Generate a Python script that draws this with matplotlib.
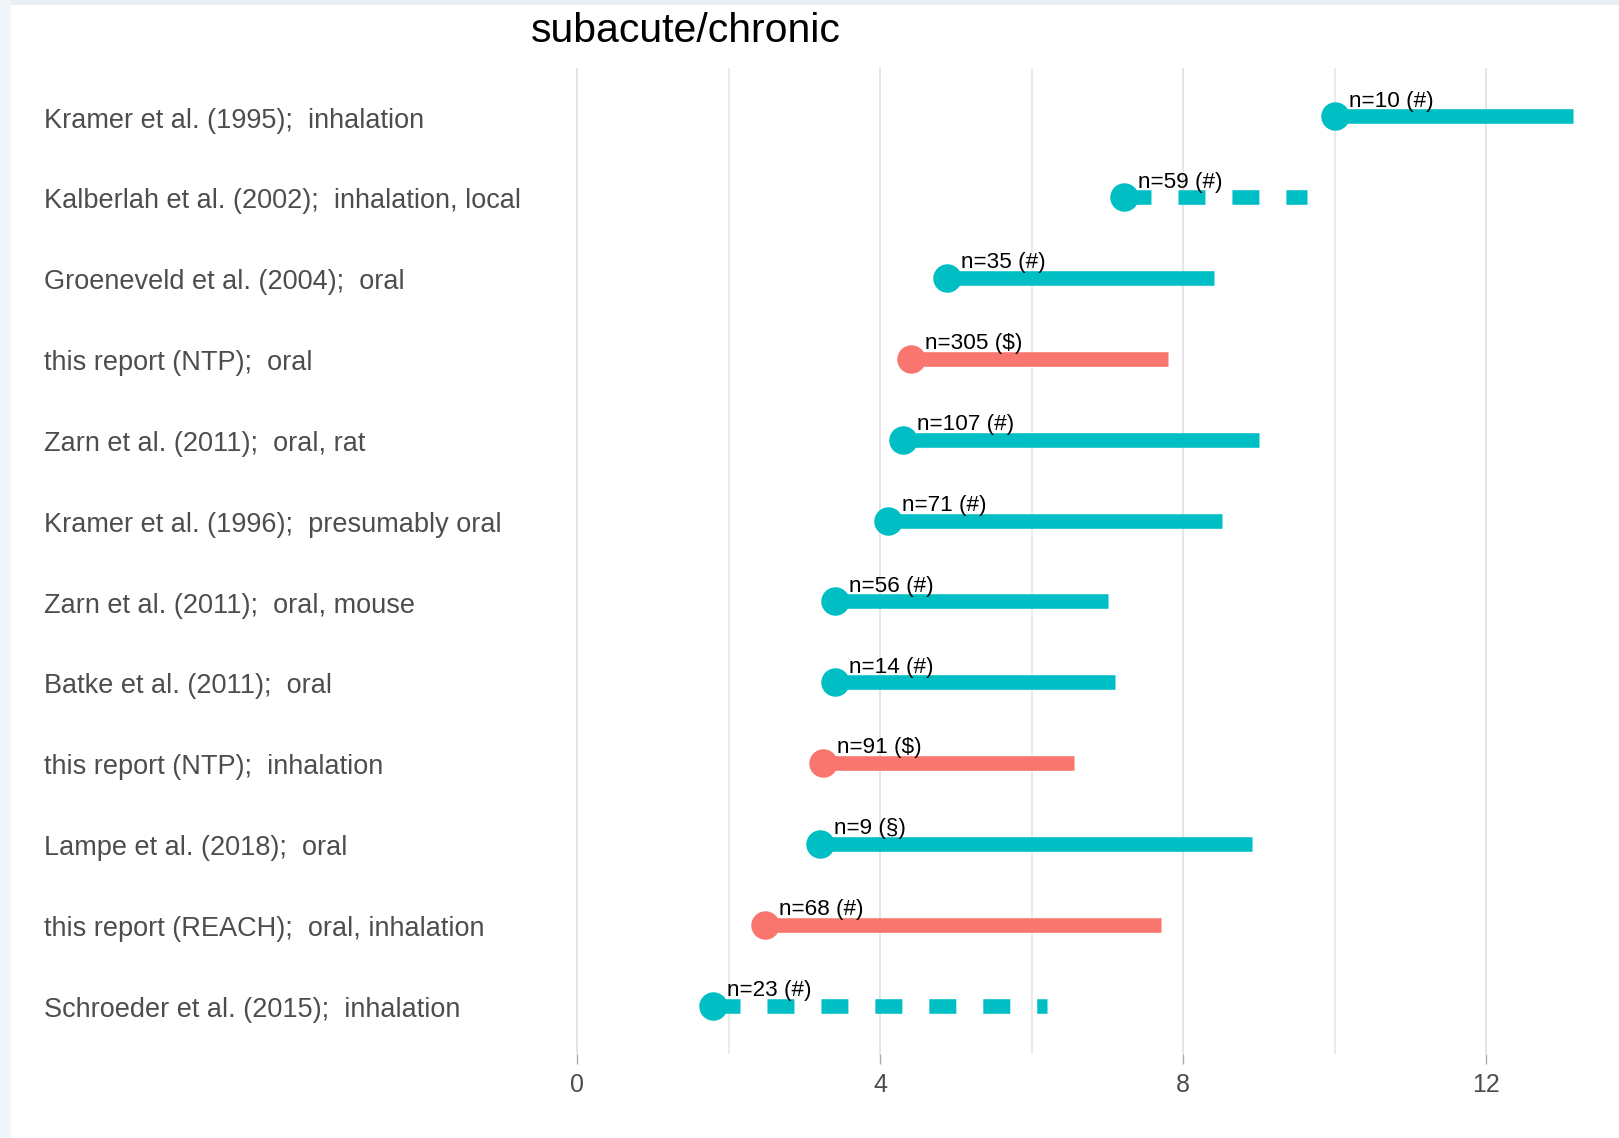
import matplotlib
matplotlib.use("Agg")
import matplotlib.pyplot as plt
from matplotlib.patches import Rectangle
import matplotlib.transforms as mtransforms

plt.rcParams['font.family'] = ['Liberation Sans', 'DejaVu Sans']

# studies, top to bottom
studies = [
    "Kramer et al. (1995);  inhalation",
    "Kalberlah et al. (2002);  inhalation, local",
    "Groeneveld et al. (2004);  oral",
    "this report (NTP);  oral",
    "Zarn et al. (2011);  oral, rat",
    "Kramer et al. (1996);  presumably oral",
    "Zarn et al. (2011);  oral, mouse",
    "Batke et al. (2011);  oral",
    "this report (NTP);  inhalation",
    "Lampe et al. (2018);  oral",
    "this report (REACH);  oral, inhalation",
    "Schroeder et al. (2015);  inhalation",
]
low = [10.0, 7.22, 4.88, 4.41, 4.30, 4.10, 3.40, 3.40, 3.25, 3.21, 2.48, 1.80]
high = [13.14, 9.63, 8.41, 7.80, 9.00, 8.51, 7.00, 7.10, 6.56, 8.91, 7.71, 6.20]
n_labels = ["n=10 (#)", "n=59 (#)", "n=35 (#)", "n=305 ($)", "n=107 (#)", "n=71 (#)",
            "n=56 (#)", "n=14 (#)", "n=91 ($)", "n=9 (§)", "n=68 (#)", "n=23 (#)"]
source = ["lit", "lit", "lit", "own", "lit", "lit", "lit", "lit", "own", "lit", "own", "lit"]
open_ended = [False, True, False, False, False, False, False, False, False, False, False, True]

x_ticks = [0, 4, 8, 12]
x_minor = [2, 6, 10]

colors = {"lit": "#00BFC4", "own": "#F8766D"}

fig = plt.figure(figsize=(16.19, 11.38), dpi=100)
fig.patch.set_facecolor("white")
# light frame strips along the top and left edges
fig.patches.append(Rectangle((0, 1 - 5 / 1138), 1, 5 / 1138, transform=fig.transFigure,
                             facecolor="#e9eef2", edgecolor="none", zorder=0))
fig.patches.append(Rectangle((0, 0), 11 / 1619, 1, transform=fig.transFigure,
                             facecolor="#f0f6fa", edgecolor="none", zorder=0))

ax = fig.add_axes([527 / 1619, 1 - 1054 / 1138, (1610 - 527) / 1619, (1054 - 68) / 1138])
ax.set_facecolor("white")

k = len(studies)
ypos = [k - i for i in range(k)]

for i in range(k):
    c = colors[source[i]]
    ls = (0, (1.85, 1.85)) if open_ended[i] else "-"
    ax.plot([low[i], high[i]], [ypos[i], ypos[i]], color=c, lw=10.5,
            linestyle=ls, solid_capstyle="butt", dash_capstyle="butt", zorder=3)
    ax.plot(low[i], ypos[i], "o", color=c, markersize=20.5, markeredgewidth=0, zorder=4)
    ax.annotate(n_labels[i], (low[i], ypos[i]), xytext=(10, 7), textcoords="offset points",
                ha="left", va="baseline", fontsize=16.2, color="black", zorder=5)

# study names, left aligned near the figure edge
trans = mtransforms.blended_transform_factory(fig.transFigure, ax.transData)
trans = trans + mtransforms.ScaledTranslation(0, -3 / 72, fig.dpi_scale_trans)
for i in range(k):
    ax.text(44 / 1619, ypos[i], studies[i], transform=trans, ha="left", va="center",
            fontsize=19.5, color="#4D4D4D")

ax.set_xlim(-0.66, 13.63)
ax.set_ylim(0.4, k + 0.6)
ax.set_xticks(x_ticks)
ax.set_xticks(x_minor, minor=True)
ax.set_yticks([])
ax.grid(True, axis="x", which="major", color="#E5E5E5", lw=1.4, zorder=0)
ax.grid(True, axis="x", which="minor", color="#E5E5E5", lw=1.1, zorder=0)
ax.tick_params(axis="x", which="major", length=7, width=1, color="#AAAAAA",
               labelsize=18, labelcolor="#4D4D4D", pad=7)
ax.tick_params(axis="x", which="minor", length=0)
for s in ax.spines.values():
    s.set_visible(False)

fig.text(531 / 1619, 1 - 31 / 1138, "subacute/chronic", ha="left", va="center",
         fontsize=29.5, color="black")

fig.savefig("out.png", dpi=100)
